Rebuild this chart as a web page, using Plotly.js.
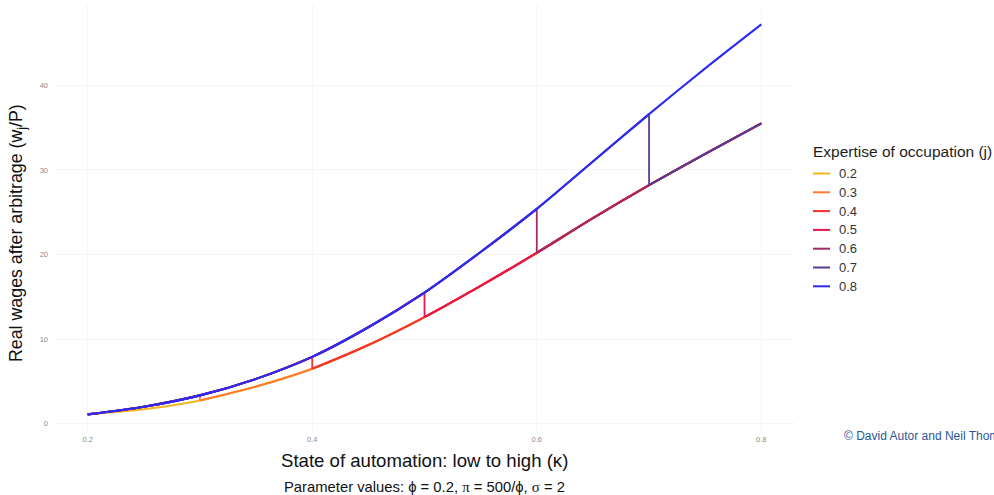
<!DOCTYPE html>
<html>
<head>
<meta charset="utf-8">
<script src="https://cdn.plot.ly/plotly-3.0.1.min.js"></script>
<style>
  html, body { margin: 0; padding: 0; background: #ffffff; }
  #chart { width: 994px; height: 495px; }
</style>
</head>
<body>
<div id="chart"></div>
<script>
// State of automation (kappa) grid
const kappa = [0.20, 0.25, 0.30, 0.35, 0.40, 0.45, 0.50, 0.55, 0.60, 0.65, 0.70, 0.75, 0.80];
// Real wage of an occupation that is not yet automated
const wageBefore = [1.1, 2.0, 3.35, 5.3, 7.9, 11.4, 15.5, 20.3, 25.4, 31.0, 36.6, 42.0, 47.2];
// Real wage once the occupation has been automated (kappa >= j)
const wageAfter = [1.1, 1.7, 2.75, 4.4, 6.5, 9.3, 12.6, 16.3, 20.2, 24.3, 28.2, 31.9, 35.5];
// Expertise of occupation (j)
const expertise = [0.2, 0.3, 0.4, 0.5, 0.6, 0.7, 0.8];
const expertiseLabels = ['0.2', '0.3', '0.4', '0.5', '0.6', '0.7', '0.8'];
const lineColors = ['#F2B61E', '#FF7B2E', '#F8302E', '#E8154F', '#A32A62', '#553C9A', '#2B2BF5'];

const xTicks = [0.2, 0.4, 0.6, 0.8];
const xTickLabels = ['0.2', '0.4', '0.6', '0.8'];
const yTicks = [0, 10, 20, 30, 40];
const yTickLabels = ['0', '10', '20', '30', '40'];

// page geometry
const W = 994, H = 495;
const M = { l: 54, r: 199, t: 5, b: 62 };
const plotW = W - M.l - M.r, plotH = H - M.t - M.b;
const px = x => (x - M.l) / plotW;
const py = y => 1 - (y - M.t) / plotH;

const FONT = 'Liberation Sans, Arial, Helvetica, sans-serif';
const LW = 2.1;
const kLast = kappa.length - 1;

const traces = [];
expertise.forEach((j, i) => {
  const k = kappa.findIndex(v => Math.abs(v - j) < 1e-9);
  const common = { mode: 'lines', hoverinfo: 'skip', showlegend: false };
  // before automation: upper branch up to kappa = j
  traces.push(Object.assign({}, common, {
    x: kappa.slice(0, k + 1), y: wageBefore.slice(0, k + 1),
    line: { color: lineColors[i], width: LW, shape: 'spline', smoothing: 0.8 }
  }));
  if (k < kLast) {
    // drop at kappa = j
    traces.push(Object.assign({}, common, {
      x: [j, j], y: [wageBefore[k], wageAfter[k]],
      line: { color: lineColors[i], width: LW * 0.85 }
    }));
    // after automation: lower branch from kappa = j
    traces.push(Object.assign({}, common, {
      x: kappa.slice(k), y: wageAfter.slice(k),
      line: { color: lineColors[i], width: LW, shape: 'spline', smoothing: 0.8 }
    }));
  }
});

// legend built as shapes + text
const shapes = [];
const annotations = [];
const legX0 = 813, legX1 = 830, legText = 837, legY0 = 173.5, legStep = 18.8;
annotations.push({
  xref: 'paper', yref: 'paper', x: px(811), y: py(151), xanchor: 'left', yanchor: 'middle',
  text: 'Expertise of occupation (j)', showarrow: false,
  font: { family: FONT, size: 15.5, color: '#1e1e1e' }
});
expertise.forEach((j, i) => {
  const yy = legY0 + i * legStep;
  shapes.push({
    type: 'line', xref: 'paper', yref: 'paper',
    x0: px(legX0), x1: px(legX1), y0: py(yy), y1: py(yy),
    line: { color: lineColors[i], width: 2 }
  });
  annotations.push({
    xref: 'paper', yref: 'paper', x: px(legText), y: py(yy), xanchor: 'left', yanchor: 'middle',
    text: expertiseLabels[i], showarrow: false,
    font: { family: FONT, size: 13, color: '#333333' }
  });
});

// axis titles, parameter note and credit
annotations.push({
  xref: 'paper', yref: 'paper', x: px(18), y: py(233), xanchor: 'center', yanchor: 'middle',
  textangle: -90, text: 'Real wages after arbitrage (w<sub>j</sub>/P)', showarrow: false,
  font: { family: FONT, size: 17.8, color: '#111111' }
});
annotations.push({
  xref: 'paper', yref: 'paper', x: px(425), y: py(461), xanchor: 'center', yanchor: 'middle',
  text: 'State of automation: low to high (κ)', showarrow: false,
  font: { family: FONT, size: 18.6, color: '#111111' }
});
annotations.push({
  xref: 'paper', yref: 'paper', x: px(424), y: py(487), xanchor: 'center', yanchor: 'middle',
  text: 'Parameter values: ϕ = 0.2, <span style="font-family:Liberation Serif">π</span> = 500/ϕ, <span style="font-family:Liberation Serif">σ</span> = 2',
  showarrow: false,
  font: { family: FONT, size: 14.8, color: '#111111' }
});
annotations.push({
  xref: 'paper', yref: 'paper', x: px(842), y: py(436), xanchor: 'left', yanchor: 'middle',
  text: '© David Autor and Neil Thompson', showarrow: false,
  font: { family: FONT, size: 12, color: '#2B5797' }
});

const layout = {
  width: W, height: H,
  margin: M,
  paper_bgcolor: '#ffffff', plot_bgcolor: '#ffffff',
  showlegend: false,
  xaxis: {
    range: [0.17, 0.83], tickvals: xTicks, ticktext: xTickLabels,
    showgrid: true, gridcolor: '#f6f6f6', gridwidth: 1,
    zeroline: false, showline: false, ticks: '',
    tickfont: { family: FONT, size: 7.5, color: '#8a8a8a' }
  },
  yaxis: {
    range: [-1.1, 49.5], tickvals: yTicks, ticktext: yTickLabels,
    showgrid: true, gridcolor: '#f6f6f6', gridwidth: 1,
    zeroline: false, showline: false, ticks: '',
    ticklabelstandoff: 5,
    tickfont: { family: FONT, size: 7.5, color: '#8a8a8a' }
  },
  shapes: shapes,
  annotations: annotations
};

Plotly.newPlot('chart', traces, layout, { staticPlot: true, displayModeBar: false });
</script>
</body>
</html>
